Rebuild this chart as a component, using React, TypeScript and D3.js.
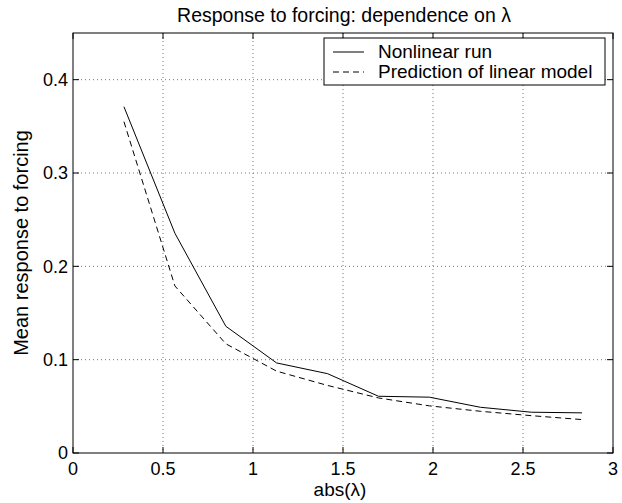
import React from "react";
import * as d3 from "d3";

const lambdaValues = [0.283, 0.566, 0.849, 1.131, 1.414, 1.697, 1.98, 2.263, 2.546, 2.828];
const nonlinearRun = [0.371, 0.2355, 0.1358, 0.0965, 0.085, 0.0608, 0.0598, 0.049, 0.0437, 0.043];
const linearPrediction = [0.355, 0.179, 0.117, 0.0877, 0.0724, 0.059, 0.0505, 0.0447, 0.04, 0.0358];
const xTicks = [0, 0.5, 1, 1.5, 2, 2.5, 3];
const yTicks = [0, 0.1, 0.2, 0.3, 0.4];
const legendLabels = ["Nonlinear run", "Prediction of linear model"];

const W = 622, H = 503;
const left = 73, right = 613, top = 33, bottom = 453;
const font = "'Liberation Sans', Arial, Helvetica, sans-serif";

export default function App() {
  const x = d3.scaleLinear().domain([0, 3]).range([left, right]);
  const y = d3.scaleLinear().domain([0, 0.45]).range([bottom, top]);
  const line = d3.line<[number, number]>().x(d => x(d[0])).y(d => y(d[1]));
  const solid = line(lambdaValues.map((v, i) => [v, nonlinearRun[i]] as [number, number])) || "";
  const dashed = line(lambdaValues.map((v, i) => [v, linearPrediction[i]] as [number, number])) || "";
  const tickLen = 6;
  return (
    <svg width={W} height={H} style={{ position: "absolute", left: 0, top: 0, background: "#fff" }} fontFamily={font}>
      <rect x={0} y={0} width={W} height={H} fill="#fff" />
      {xTicks.filter(t => t > 0 && t < 3).map(t => (
        <line key={"gx" + t} x1={x(t)} x2={x(t)} y1={top} y2={bottom} stroke="#777" strokeWidth={1} strokeDasharray="1 3" />
      ))}
      {yTicks.filter(t => t > 0).map(t => (
        <line key={"gy" + t} x1={left} x2={right} y1={y(t)} y2={y(t)} stroke="#777" strokeWidth={1} strokeDasharray="1 3" />
      ))}
      {xTicks.map(t => (
        <g key={"tx" + t}>
          <line x1={x(t)} x2={x(t)} y1={bottom} y2={bottom - tickLen} stroke="#000" />
          <line x1={x(t)} x2={x(t)} y1={top} y2={top + tickLen} stroke="#000" />
          <text x={x(t)} y={475} textAnchor="middle" fontSize={18} fill="#000">{t}</text>
        </g>
      ))}
      {yTicks.map(t => (
        <g key={"ty" + t}>
          <line x1={left} x2={left + tickLen} y1={y(t)} y2={y(t)} stroke="#000" />
          <line x1={right} x2={right - tickLen} y1={y(t)} y2={y(t)} stroke="#000" />
          <text x={left - 5} y={y(t)} dy="0.35em" textAnchor="end" fontSize={18} fill="#000">{t}</text>
        </g>
      ))}
      <rect x={left} y={top} width={right - left} height={bottom - top} fill="none" stroke="#000" strokeWidth={1} />
      <path d={solid} fill="none" stroke="#000" strokeWidth={1} />
      <path d={dashed} fill="none" stroke="#000" strokeWidth={1} strokeDasharray="6 4" />
      <rect x={324} y={38} width={281} height={47} fill="#fff" stroke="#000" strokeWidth={1} />
      <line x1={333} x2={364} y1={52} y2={52} stroke="#000" />
      <line x1={333} x2={364} y1={72} y2={72} stroke="#000" strokeDasharray="6 4" />
      {legendLabels.map((l, i) => (
        <text key={l} x={378} y={58 + i * 20} fontSize={19} fill="#000">{l}</text>
      ))}
      <text x={344} y={22} textAnchor="middle" fontSize={19.5} fill="#000">Response to forcing: dependence on λ</text>
      <text x={340} y={496} textAnchor="middle" fontSize={19} fill="#000">abs(λ)</text>
      <text transform={`translate(28,${(top + bottom) / 2}) rotate(-90)`} textAnchor="middle" fontSize={20} fill="#000">Mean response to forcing</text>
    </svg>
  );
}
